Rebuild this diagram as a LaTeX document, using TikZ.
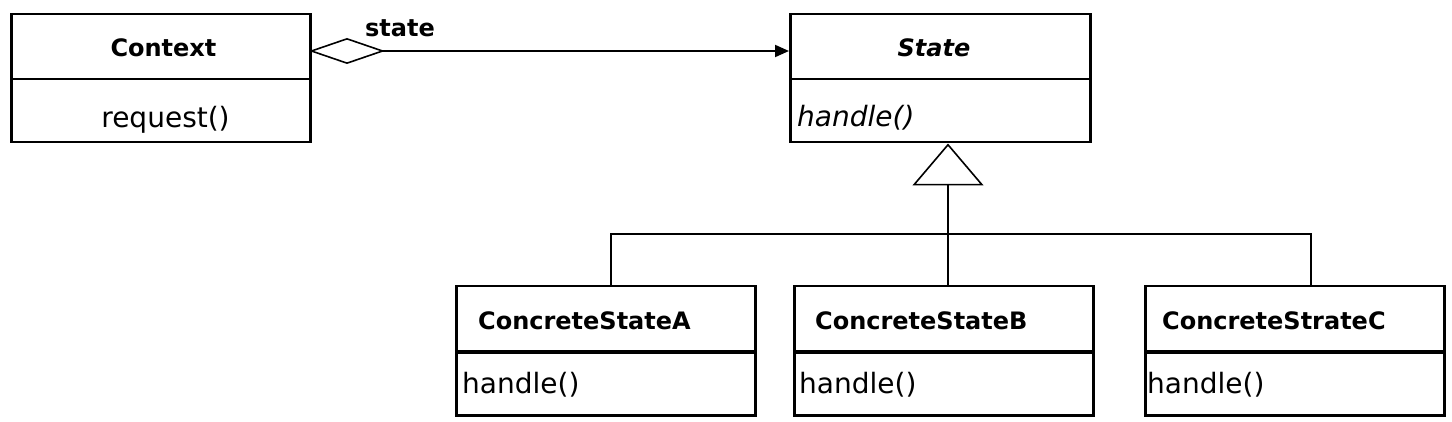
\documentclass[tikz,border=0pt]{standalone}
\usepackage{fontspec}
\setmainfont{DejaVu Sans}
\usetikzlibrary{arrows.meta}
\tikzset{
  box/.style={draw=black, line width=2.5pt, inner sep=0pt, anchor=north west, minimum width=#1},
  boxtop/.style={box=#1, minimum height=65pt},
  boxbot/.style={box=#1, minimum height=63pt},
  title/.style={inner sep=0pt, anchor=base, font=\fontsize{24}{28}\selectfont\bfseries},
  titleL/.style={title, anchor=base west},
  op/.style={inner sep=0pt, anchor=base, font=\fontsize{28}{32}\selectfont},
  opL/.style={op, anchor=base west},
  conn/.style={draw=black, line width=2pt},
}
\begin{document}
\begin{tikzpicture}[x=1pt,y=-1pt]
\useasboundingbox (0,0) rectangle (1452,422);
% Context
\node[boxtop=299pt] (ctxT) at (10,13) {};
\node[boxbot=299pt] (ctxB) at (10,78) {};
\node[title] (ctxN) at (163.5,57) {Context};
\node[op] (ctxO) at (165.5,128) {request()};
% State
\node[boxtop=300pt] (stT) at (789,13) {};
\node[boxbot=300pt] (stB) at (789,78) {};
\node[title, font=\fontsize{24}{28}\selectfont\bfseries\itshape] (stN) at (934,57) {State};
\node[opL, font=\fontsize{28}{32}\selectfont\itshape] (stO) at (797,127) {handle()};
% Concrete A
\node[boxtop=299pt] (aT) at (455,285) {};
\node[boxbot=299pt] (aB) at (455,351) {};
\node[titleL] (aN) at (478,330) {ConcreteStateA};
\node[opL] (aO) at (462,393) {handle()};
% Concrete B
\node[boxtop=299pt] (bT) at (793,285) {};
\node[boxbot=299pt] (bB) at (793,351) {};
\node[titleL] (bN) at (815,330) {ConcreteStateB};
\node[opL] (bO) at (799,393) {handle()};
% Concrete C
\node[boxtop=299pt] (cT) at (1144,285) {};
\node[boxbot=299pt] (cB) at (1144,351) {};
\node[titleL] (cN) at (1162,330) {ConcreteStrateC};
\node[opL] (cO) at (1147,393) {handle()};
% association
\draw[conn, {Diamond[open,length=76pt,width=26pt,line width=1.6pt]}-{Triangle[length=14pt,width=12pt]}]
  ([xshift=-2.5pt]ctxT.east |- 0,51) -- (stT.west |- 0,51);
\node[title, anchor=base west] (lbl) at (365,37) {state};
% generalization
\coordinate (j) at (948,234);
\coordinate (ja) at (611,234);
\coordinate (jc) at (1311,234);
\draw[conn, -{Triangle[open,length=42pt,width=71pt,line width=1.6pt]}] (j) -- (j |- stB.south);
\draw[conn] (ja |- aT.north) -- (ja) -- (jc) -- (jc |- cT.north);
\draw[conn] (j) -- (j |- bT.north);
\end{tikzpicture}
\end{document}
